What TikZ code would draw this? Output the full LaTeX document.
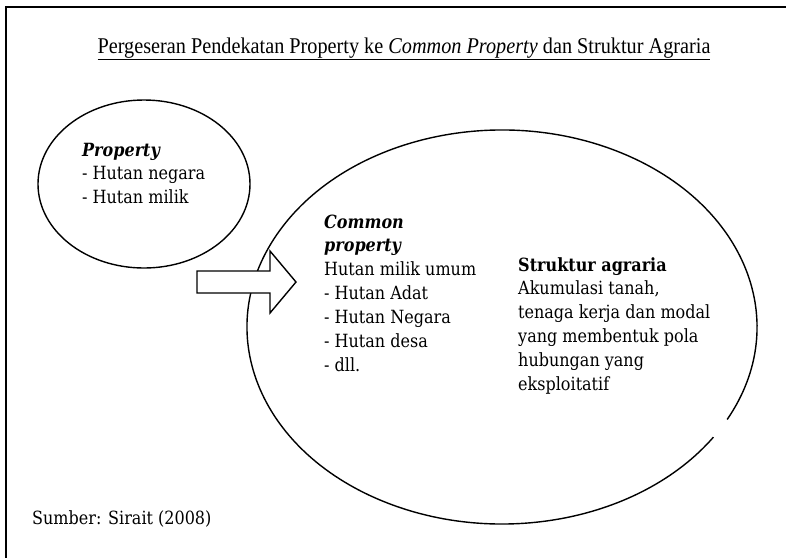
\documentclass[tikz,border=0pt]{standalone}
\usepackage{fontspec}
\usepackage{graphicx}
\usetikzlibrary{shapes.geometric,calc}
\setmainfont{DejaVu Serif}
\newfontfamily\titlefont{Liberation Serif}
% a block of left-aligned lines, set slightly narrow
\newcommand{\textblock}[1]{\scalebox{0.88}[1]{\fontsize{18.2}{23.9}\selectfont
  \begin{tabular}[t]{@{}l@{}}#1\end{tabular}}}
\begin{document}
\begin{tikzpicture}[x=1pt,y=-1pt,
  frameline/.style={line width=1.4pt},
  bubble/.style={line width=1.4pt},
  txt/.style={inner sep=0pt,anchor=base west},
  shiftarrow/.style={line width=1.4pt,fill=white,line join=miter}]
\useasboundingbox (0,0) rectangle (786,558);

% page frame (top and left edges)
\coordinate (ftl) at (6,7);
\coordinate (ftr) at (786,7);
\coordinate (fbl) at (6,558);
\draw[frameline] (ftr) -- (ftl) -- (fbl);

% heading
\node[inner sep=0pt,anchor=base] (title) at (404,53)
  {\scalebox{0.9}[1]{\titlefont\fontsize{22.5}{26}\selectfont\underline{Pergeseran Pendekatan Property ke \textit{Common Property} dan Struktur Agraria}}};

% small ellipse: property
\node[draw,bubble,ellipse,minimum width=212pt,minimum height=168pt,inner sep=0pt] (small) at (144,184) {};
\node[txt] (proptext) at (82,156)
  {\textblock{\textbf{\textit{Property}}\\- Hutan negara\\- Hutan milik}};

% large ellipse with a small break on its lower right
\coordinate (bigc) at (502,327);
\draw[bubble] ($(bigc)+({255*cos(-28)},{-197*sin(-28)})$)
  arc[start angle=-28,end angle=326,x radius=255,y radius=-197];

% shift arrow
\coordinate (tip) at (296,282);
\draw[shiftarrow] (197,271) -- (270,271) -- (270,251) -- (tip) -- (270,313) -- (270,293) -- (197,293) -- cycle;

% common property text
\node[txt] (commontext) at (324,228)
  {\textblock{\textbf{\textit{Common}}\\\textbf{\textit{property}}\\Hutan milik umum\\- Hutan Adat\\- Hutan Negara\\- Hutan desa\\- dll.}};

% agrarian structure text
\node[txt] (struktur) at (518,271)
  {\textblock{\textbf{Struktur agraria}\\Akumulasi tanah,\\tenaga kerja dan modal\\yang membentuk pola\\hubungan yang\\eksploitatif}};

% source
\node[txt] (sumber) at (32,524)
  {\textblock{Sumber: Sirait ({\addfontfeature{Numbers=OldStyle}2008})}};
\end{tikzpicture}
\end{document}
